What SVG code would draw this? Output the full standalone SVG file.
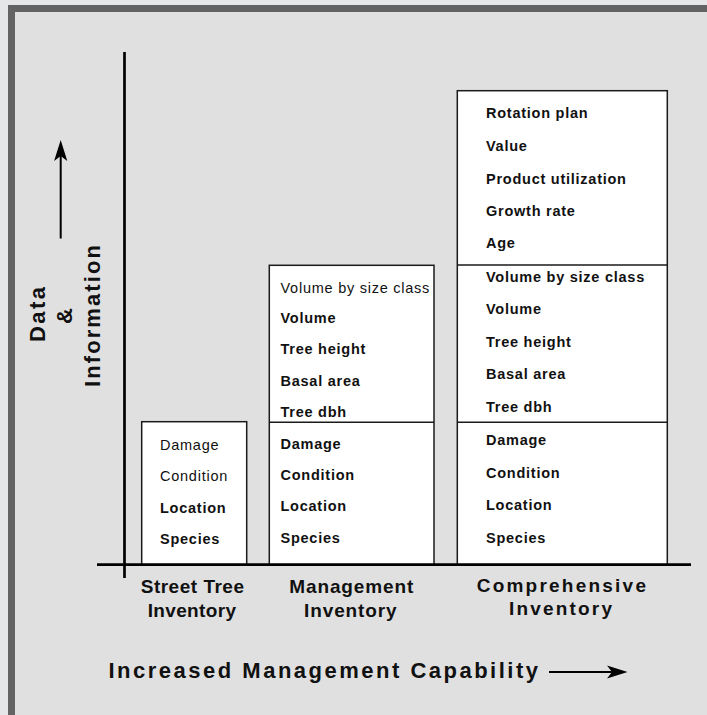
<svg xmlns="http://www.w3.org/2000/svg" width="707" height="715" viewBox="0 0 707 715">
<defs>
<style>
.box{fill:#ffffff;stroke:#1a1a1a;stroke-width:1.5}
.div{stroke:#1a1a1a;stroke-width:1.5}
.b{font-family:"Liberation Sans",Arial,sans-serif;font-size:14.5px;font-weight:bold;letter-spacing:0.75px;fill:#111}
.r{font-family:"Liberation Sans",Arial,sans-serif;font-size:14.5px;letter-spacing:0.75px;fill:#111}
.col{font-family:"Liberation Sans",Arial,sans-serif;font-size:19px;font-weight:bold;fill:#111}
.ax{font-family:"Liberation Sans",Arial,sans-serif;font-size:22px;font-weight:bold;fill:#111}
.line{stroke:#000;stroke-width:2.7;fill:none}
.thin{stroke:#000;stroke-width:2;fill:none}
.head{fill:#000}
</style>
</defs>
<rect x="0" y="0" width="707" height="715" fill="#e5e6e8"/>
<rect x="8" y="5" width="699" height="710" fill="#636363"/>
<rect x="15" y="12" width="692" height="703" fill="#e0e0e0"/>

<g id="street-tree-inventory">
<rect class="box" x="141.7" y="421.7" width="105" height="143"/>
<text class="r" x="160" y="450">Damage</text>
<text class="r" x="160" y="481">Condition</text>
<text class="b" x="160" y="512.5">Location</text>
<text class="b" x="160" y="543.5">Species</text>
<text class="col" x="140.7" y="592.7" textLength="103.3" lengthAdjust="spacing">Street Tree</text>
<text class="col" x="147.7" y="616.7" textLength="88.3" lengthAdjust="spacing">Inventory</text>
</g>

<g id="management-inventory">
<rect class="box" x="269.3" y="265.3" width="164.7" height="299.5"/>
<line class="div" x1="269.3" y1="422.3" x2="434" y2="422.3"/>
<text class="r" x="280.5" y="292.7">Volume by size class</text>
<text class="b" x="280.5" y="323.3">Volume</text>
<text class="b" x="280.5" y="354.3">Tree height</text>
<text class="b" x="280.5" y="386">Basal area</text>
<text class="b" x="280.5" y="416.7">Tree dbh</text>
<text class="b" x="280.5" y="448.7">Damage</text>
<text class="b" x="280.5" y="480">Condition</text>
<text class="b" x="280.5" y="511">Location</text>
<text class="b" x="280.5" y="542.7">Species</text>
<text class="col" x="289.3" y="592.7" textLength="124" lengthAdjust="spacing">Management</text>
<text class="col" x="304" y="616.7" textLength="92.7" lengthAdjust="spacing">Inventory</text>
</g>

<g id="comprehensive-inventory">
<rect class="box" x="457.3" y="90.7" width="210" height="474"/>
<line class="div" x1="457.3" y1="265" x2="667.3" y2="265"/>
<line class="div" x1="457.3" y1="422.3" x2="667.3" y2="422.3"/>
<text class="b" x="486" y="117.7">Rotation plan</text>
<text class="b" x="486" y="150.7">Value</text>
<text class="b" x="486" y="184">Product utilization</text>
<text class="b" x="486" y="216">Growth rate</text>
<text class="b" x="486" y="248.3">Age</text>
<text class="b" x="486" y="281.7">Volume by size class</text>
<text class="b" x="486" y="314">Volume</text>
<text class="b" x="486" y="347">Tree height</text>
<text class="b" x="486" y="379">Basal area</text>
<text class="b" x="486" y="411.7">Tree dbh</text>
<text class="b" x="486" y="445">Damage</text>
<text class="b" x="486" y="477.7">Condition</text>
<text class="b" x="486" y="510">Location</text>
<text class="b" x="486" y="542.7">Species</text>
<text class="col" x="476.7" y="591.7" textLength="169.3" lengthAdjust="spacing">Comprehensive</text>
<text class="col" x="509" y="615" textLength="103" lengthAdjust="spacing">Inventory</text>
</g>

<g id="y-axis-label">
<text class="ax" transform="translate(45,314.5) rotate(-90)" x="-27.5" y="0" textLength="55" lengthAdjust="spacing">Data</text>
<text class="ax" transform="translate(72,316) rotate(-90)" text-anchor="middle" x="0" y="0">&amp;</text>
<text class="ax" transform="translate(100,316) rotate(-90)" x="-71" y="0" textLength="142" lengthAdjust="spacing">Information</text>
</g>

<g id="x-axis-label">
<text class="ax" x="108.5" y="678.3" textLength="429.5" lengthAdjust="spacing">Increased Management Capability</text>
</g>

<g id="connectors">
<line class="line" x1="124.5" y1="52" x2="124.5" y2="578"/>
<line class="line" x1="97" y1="564.7" x2="691" y2="564.7"/>
<line class="thin" x1="60.7" y1="238.5" x2="60.7" y2="152"/>
<path class="head" d="M60.7,140 L67.3,161 L60.7,156 L54.1,161 Z"/>
<line class="thin" x1="549" y1="672" x2="615" y2="672"/>
<path class="head" d="M627.5,672 L607,678.5 L612,672 L607,665.5 Z"/>
</g>
</svg>
